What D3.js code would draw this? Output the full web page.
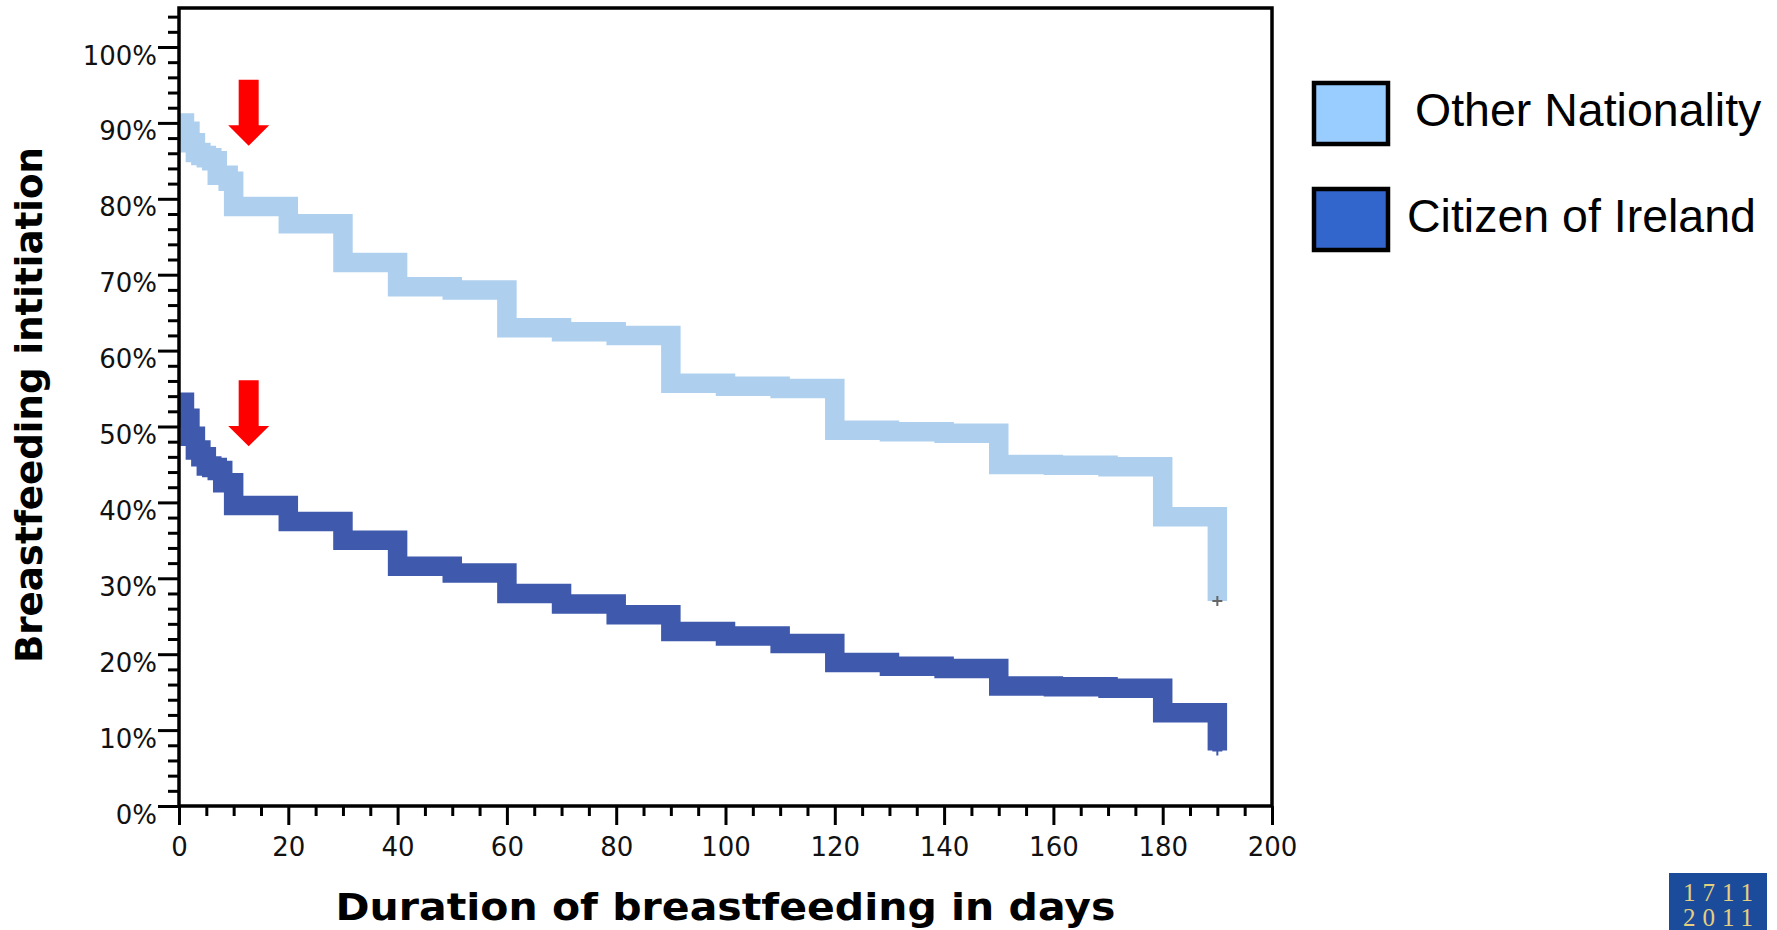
<!DOCTYPE html>
<html><head><meta charset="utf-8">
<script src="https://cdn.jsdelivr.net/npm/d3@7"></script>
<style>html,body{margin:0;padding:0;background:#fff;overflow:hidden;} svg{display:block;}</style>
</head><body>
<svg id="chart" width="1777" height="930"></svg>
<script>
// ---------------- data ----------------
const days = [0,1,2,3,4,5,6,7,8,9,10,20,30,40,50,60,70,80,90,100,110,120,130,140,150,160,170,180,190];
const otherNationality = [90.0,88.9,87.4,86.1,85.7,85.4,85.0,83.1,83.1,82.3,79.0,76.7,71.6,68.4,68.0,63.0,62.5,62.0,55.7,55.3,55.0,49.5,49.3,49.1,45.0,44.9,44.7,38.1,27.0];
const citizenOfIreland = [53.2,51.1,48.7,46.9,46.0,44.8,44.6,44.2,42.6,42.6,39.6,37.5,35.0,31.6,30.7,28.0,26.6,25.2,23.0,22.4,21.4,18.9,18.4,18.1,15.8,15.7,15.5,12.3,7.3];
const seriesNames = ["Other Nationality", "Citizen of Ireland"];
const seriesColors = ["#AED0EE", "#3F59AD"];
const legendColors = ["#99CCFF", "#3366CC"];
const xMajorTicks = [0,20,40,60,80,100,120,140,160,180,200];
const yMajorTicks = [0,10,20,30,40,50,60,70,80,90,100];
const yTickLabels = ["0%","10%","20%","30%","40%","50%","60%","70%","80%","90%","100%"];
const censorDays = [190, 190];
const arrowDays = [12.75, 12.75];
const arrowTipValues = [87.0, 47.4];
const xTitle = "Duration of breastfeeding in days";
const yTitle = "Breastfeeding intitiation";

// ---------------- layout ----------------
const svg = d3.select("#chart");
const L = 179, R = 1272, T = 8, B = 806;
const x = d3.scaleLinear().domain([0, 200]).range([L, R]);
const y = d3.scaleLinear().domain([0, 100]).range([B, 47]);

svg.append("defs").append("clipPath").attr("id", "plotClip")
  .append("rect").attr("x", L).attr("y", T).attr("width", R - L).attr("height", B - T);

// ---------------- curves ----------------
const line = d3.line().x(d => x(d[0])).y(d => y(d[1])).curve(d3.curveStepAfter);
const seriesValues = [otherNationality, citizenOfIreland];
const gCurves = svg.append("g").attr("clip-path", "url(#plotClip)");
seriesValues.forEach((vals, i) => {
  gCurves.append("path")
    .datum(days.map((d, j) => [d, vals[j]]))
    .attr("d", line)
    .attr("fill", "none")
    .attr("stroke", seriesColors[i])
    .attr("stroke-width", 19.5)
    .attr("stroke-linejoin", "miter")
    .attr("stroke-linecap", "butt");
});
// censor marks
seriesValues.forEach((vals, i) => {
  const cx = x(censorDays[i]), cy = y(vals[vals.length - 1]);
  svg.append("path")
    .attr("d", `M${cx-5},${cy}H${cx+5}M${cx},${cy-5}V${cy+5}`)
    .attr("stroke", i === 0 ? "#666" : seriesColors[1])
    .attr("stroke-width", 2).attr("fill", "none");
});

// ---------------- axes ----------------
const tickFont = "'DejaVu Sans', sans-serif";
const yMinor = d3.range(0, 105, 2).filter(v => v % 10 !== 0);
const xMinor = d3.range(0, 201, 5).filter(v => v % 20 !== 0);

svg.append("g").attr("transform", `translate(${L},0)`)
  .call(d3.axisLeft(y).tickValues(yMinor).tickSize(11).tickFormat(""));
const yAxis = svg.append("g").attr("transform", `translate(${L},0)`)
  .call(d3.axisLeft(y).tickValues(yMajorTicks).tickSize(21).tickPadding(1)
    .tickFormat((d, i) => yTickLabels[i]));
yAxis.selectAll("text").attr("dy", "17").attr("font-size", 26).attr("font-family", tickFont).attr("fill", "#111");

svg.append("g").attr("transform", `translate(0,${B})`)
  .call(d3.axisBottom(x).tickValues(xMinor).tickSize(10).tickFormat(""));
const xAxis = svg.append("g").attr("transform", `translate(0,${B})`)
  .call(d3.axisBottom(x).tickValues(xMajorTicks).tickSize(19).tickPadding(13));
xAxis.selectAll("text").attr("font-size", 26).attr("font-family", tickFont).attr("fill", "#111");

svg.selectAll(".domain").remove();
svg.selectAll(".tick line").attr("stroke", "#000").attr("stroke-width", 3);

// frame
svg.append("rect").attr("x", L).attr("y", T).attr("width", R - L).attr("height", B - T)
  .attr("fill", "none").attr("stroke", "#000").attr("stroke-width", 3.5);

// ---------------- titles ----------------
svg.append("text").text(xTitle)
  .attr("x", (L + R) / 2).attr("y", 920).attr("text-anchor", "middle")
  .attr("font-family", "'DejaVu Sans', sans-serif").attr("font-weight", "bold")
  .attr("font-size", 38).attr("fill", "#000")
  .attr("textLength", 780).attr("lengthAdjust", "spacingAndGlyphs");
svg.append("text").text(yTitle)
  .attr("transform", "translate(42,405) rotate(-90)").attr("text-anchor", "middle")
  .attr("font-family", "'DejaVu Sans', sans-serif").attr("font-weight", "bold")
  .attr("font-size", 38).attr("fill", "#000")
  .attr("textLength", 516).attr("lengthAdjust", "spacingAndGlyphs");

// ---------------- arrows ----------------
arrowDays.forEach((d, i) => {
  const tx = x(d), ty = y(arrowTipValues[i]);
  const pts = [[tx - 10, ty - 66], [tx + 10, ty - 66], [tx + 10, ty - 20.3], [tx + 20.5, ty - 20.3],
               [tx, ty], [tx - 20.5, ty - 20.3], [tx - 10, ty - 20.3]];
  svg.append("polygon").attr("points", pts.map(p => p.join(",")).join(" ")).attr("fill", "#FF0000");
});

// ---------------- legend ----------------
const legendTextX = [1415, 1407];
seriesNames.forEach((name, i) => {
  const top = 83 + i * 106;
  svg.append("rect").attr("x", 1314).attr("y", top).attr("width", 74).attr("height", 61)
    .attr("fill", legendColors[i]).attr("stroke", "#000").attr("stroke-width", 4.5);
  svg.append("text").text(name).attr("x", legendTextX[i]).attr("y", top + 43)
    .attr("font-family", "'Liberation Sans', Arial, sans-serif").attr("font-size", 46.5).attr("fill", "#000");
});

// ---------------- logo ----------------
const logo = svg.append("g");
logo.append("rect").attr("x", 1669).attr("y", 873).attr("width", 98).attr("height", 80).attr("fill", "#1B4C9C");
logo.append("text").text("1711").attr("x", 1718).attr("y", 901).attr("text-anchor", "middle")
  .attr("font-family", "'Liberation Serif', serif").attr("font-size", 25).attr("fill", "#E6CF7E")
  .attr("textLength", 70).attr("lengthAdjust", "spacing");
logo.append("text").text("2011").attr("x", 1718).attr("y", 926).attr("text-anchor", "middle")
  .attr("font-family", "'Liberation Serif', serif").attr("font-size", 25).attr("fill", "#E6CF7E")
  .attr("textLength", 70).attr("lengthAdjust", "spacing");
</script>
</body></html>
